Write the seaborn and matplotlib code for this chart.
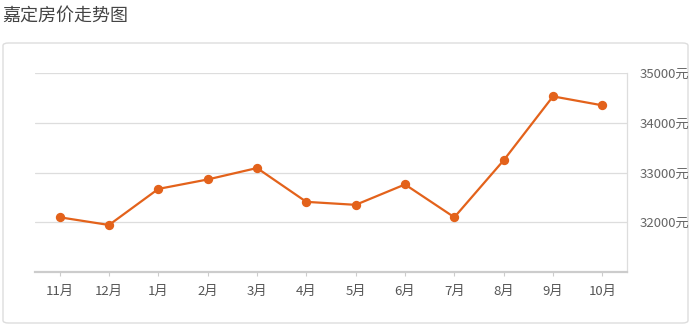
import matplotlib
matplotlib.use("Agg")
import matplotlib.pyplot as plt
import seaborn as sns
import pandas as pd
from matplotlib.patches import FancyBboxPatch

months = ["11月", "12月", "1月", "2月", "3月", "4月", "5月", "6月", "7月", "8月", "9月", "10月"]
prices = [32100, 31945, 32670, 32860, 33090, 32410, 32350, 32760, 32100, 33245, 34530, 34350]
yticks = [32000, 33000, 34000, 35000]
ytick_labels = ["32000元", "33000元", "34000元", "35000元"]
title = "嘉定房价走势图"

sns.set_theme(style="white")
plt.rcParams["font.family"] = ["Noto Sans CJK SC", "DejaVu Sans"]

W, H = 691, 327
fig = plt.figure(figsize=(W / 100, H / 100), dpi=100)
fig.patch.set_facecolor("white")

# outer rounded frame
frame = FancyBboxPatch((3 / W, 1 - 323 / H), (688 - 3) / W, (323 - 43) / H,
                       boxstyle="round,pad=0,rounding_size=0.008",
                       transform=fig.transFigure, facecolor="white",
                       edgecolor="#dddddd", linewidth=1.0, zorder=-10)
fig.patches.append(frame)

fig.text(2 / W, 1 - 16 / H, title, fontsize=13, color="#444444", va="center", ha="left")

left, right = 35 / W, 627 / W
bottom, top = 1 - 272 / H, 1 - 73 / H
ax = fig.add_axes([left, bottom, right - left, top - bottom])
ax.set_zorder(5)
ax.set_facecolor("none")

df = pd.DataFrame({"month": months, "price": prices})
sns.pointplot(data=df, x="month", y="price", order=months, ax=ax,
              color="#e3621b", markers="o", linestyles="-",
              markersize=5.5, linewidth=1.6, errorbar=None)

ax.set_xlim(-0.5, len(months) - 0.5)
ax.set_ylim(31000, 35000)
ax.set_xlabel("")
ax.set_ylabel("")

ax.yaxis.tick_right()
ax.set_yticks(yticks)
ax.set_yticklabels(ytick_labels)
ax.tick_params(axis="y", length=0, pad=9, labelsize=9.5, labelcolor="#666666")
ax.tick_params(axis="x", length=3, width=0.8, color="#cccccc", pad=6,
               labelsize=9.5, labelcolor="#555555", bottom=True, direction="out")

for y in yticks:
    ax.axhline(y, color="#dddddd", linewidth=0.9, zorder=0)

for s in ["top", "left"]:
    ax.spines[s].set_visible(False)
ax.spines["bottom"].set_color("#cccccc")
ax.spines["bottom"].set_linewidth(1.6)
ax.spines["right"].set_color("#dddddd")
ax.spines["right"].set_linewidth(0.9)
ax.grid(False)

fig.savefig("out.png", dpi=100)
